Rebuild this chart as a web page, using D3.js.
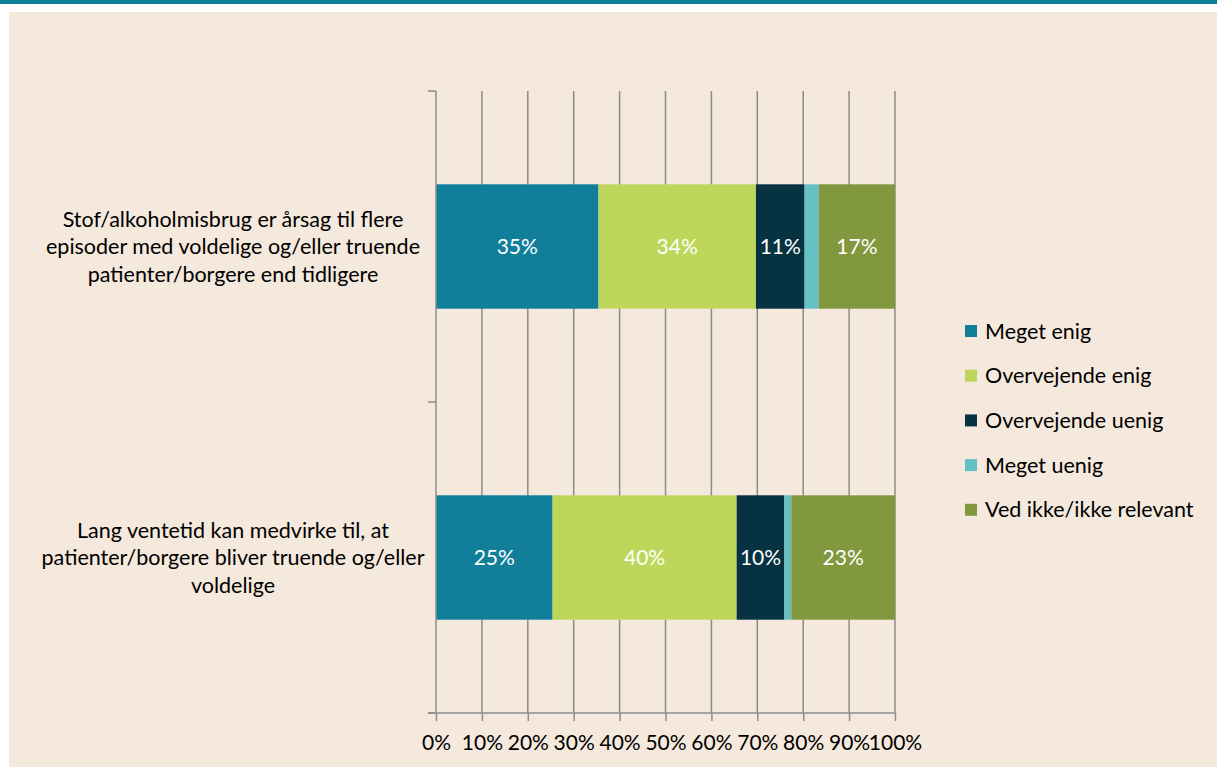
<!DOCTYPE html>
<html><head><meta charset="utf-8">
<script src="https://cdn.jsdelivr.net/npm/d3@7"></script>
<style>html,body{margin:0;padding:0;background:#fff;}svg{display:block;}</style>
</head><body>
<svg id="c" width="1217" height="767"></svg>
<script>
const categories = [
  ["Stof/alkoholmisbrug er årsag til flere", "episoder med voldelige og/eller truende", "patienter/borgere end tidligere"],
  ["Lang ventetid kan medvirke til, at", "patienter/borgere bliver truende og/eller", "voldelige"]
];
const seriesNames = ["Meget enig", "Overvejende enig", "Overvejende uenig", "Meget uenig", "Ved ikke/ikke relevant"];
const seriesColors = ["#117e9a", "#bed75a", "#073241", "#66c1c6", "#82983f"];
const values = [
  [35.4, 34.3, 10.6, 3.1, 16.6],
  [25.4, 40.1, 10.4, 1.5, 22.6]
];
const showLabel = [true, true, true, false, true];
const xTicks = [0, 10, 20, 30, 40, 50, 60, 70, 80, 90, 100];

const svg = d3.select("#c");
const FONT = "Lato, 'Open Sans', sans-serif";
svg.append("rect").attr("x", 0).attr("y", 0).attr("width", 1217).attr("height", 767).attr("fill", "#ffffff");
svg.append("rect").attr("x", 9).attr("y", 12).attr("width", 1208).attr("height", 755).attr("fill", "#f5e8dc");
svg.append("rect").attr("x", 0).attr("y", 0).attr("width", 1217).attr("height", 4).attr("fill", "#0e7f9b");

const x = d3.scaleLinear().domain([0, 100]).range([436, 895]);
const y = d3.scaleBand().domain(d3.range(categories.length)).range([91, 713]).paddingInner(0.6).paddingOuter(0.3);
const gridColor = "#8c8c8c";

// gridlines
svg.append("g").selectAll("line").data(xTicks.slice(1)).join("line")
  .attr("x1", d => x(d)).attr("x2", d => x(d)).attr("y1", 91).attr("y2", 713)
  .attr("stroke", gridColor).attr("stroke-width", 1.5);

// bars
const stacks = values.map(v => { let c = 0; return v.map((val, i) => { const s = c; c += val; return {s, e: c, val, i}; }); });
stacks.forEach((row, ci) => {
  const g = svg.append("g");
  g.selectAll("rect").data(row).join("rect")
    .attr("x", d => x(d.s)).attr("width", d => x(d.e) - x(d.s))
    .attr("y", y(ci)).attr("height", y.bandwidth())
    .attr("fill", d => seriesColors[d.i]);
  g.selectAll("text").data(row.filter(d => showLabel[d.i])).join("text")
    .attr("x", d => (x(d.s) + x(d.e)) / 2).attr("y", y(ci) + y.bandwidth() / 2)
    .attr("dy", "0.35em").attr("text-anchor", "middle")
    .attr("fill", "#ffffff").attr("font-family", FONT).attr("font-size", 21)
    .text(d => d3.format(".0f")(d.val) + "%");
});

// x axis
const xAxis = d3.axisBottom(x).tickValues(xTicks).tickSize(8).tickFormat(d => d + "%");
const ax = svg.append("g").attr("transform", "translate(0,713)").call(xAxis);
ax.select(".domain").remove();
ax.selectAll(".tick line").attr("stroke", gridColor).attr("stroke-width", 1.5);
ax.selectAll(".tick text").attr("font-family", FONT).attr("font-size", 21).attr("fill", "#000").attr("y", 22);
svg.append("line").attr("x1", 428).attr("x2", x(100)).attr("y1", 713).attr("y2", 713).attr("stroke", gridColor).attr("stroke-width", 1.5);

// y axis
svg.append("line").attr("x1", 436).attr("x2", 436).attr("y1", 91).attr("y2", 713).attr("stroke", gridColor).attr("stroke-width", 1.5);
const yTickPos = [91, (91 + 713) / 2, 713];
svg.append("g").selectAll("line").data(yTickPos).join("line")
  .attr("x1", 428).attr("x2", 436).attr("y1", d => d).attr("y2", d => d)
  .attr("stroke", gridColor).attr("stroke-width", 1.5);

// category labels
categories.forEach((lines, ci) => {
  const cy = y(ci) + y.bandwidth() / 2;
  const t = svg.append("text").attr("text-anchor", "middle").attr("font-family", FONT).attr("font-size", 21.5).attr("fill", "#000");
  lines.forEach((ln, li) => {
    t.append("tspan").attr("x", 233).attr("y", cy + (li - (lines.length - 1) / 2) * 27.5).attr("dy", "0.35em").text(ln);
  });
});

// legend
const lg = svg.append("g").selectAll("g").data(seriesNames).join("g")
  .attr("transform", (d, i) => `translate(965,${331 + i * 44.7})`);
lg.append("rect").attr("x", 0).attr("y", -6).attr("width", 12).attr("height", 12).attr("fill", (d, i) => seriesColors[i]);
lg.append("text").attr("x", 20).attr("dy", "0.35em").attr("font-family", FONT).attr("font-size", 21.5).attr("fill", "#000").text(d => d);
</script>
</body></html>
